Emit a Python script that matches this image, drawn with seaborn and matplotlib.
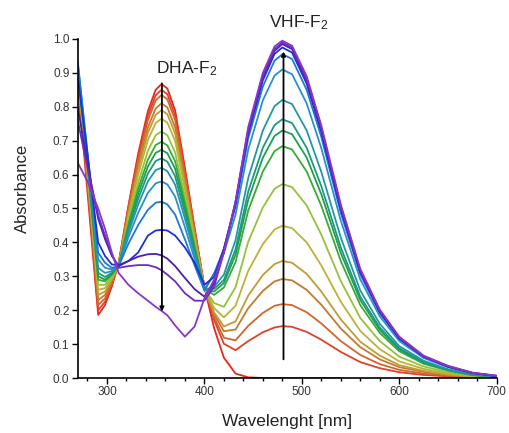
import matplotlib
matplotlib.use("Agg")
import matplotlib.pyplot as plt
import pandas as pd
import seaborn as sns
from matplotlib.ticker import MultipleLocator, FormatStrFormatter

nan = float("nan")

# Sampling wavelengths (nm) shared by every spectrum
wavelength = [270, 280, 291, 298, 305, 312, 322, 332, 342, 350, 356, 362, 370, 380,
              390, 400, 410, 420, 432, 445, 460, 472, 480, 490, 505, 520, 540, 560,
              580, 600, 625, 650, 675, 700]

# Absorbance spectra recorded during the DHA-F2 -> VHF-F2 conversion (first to last)
spec_01 = [0.87, 0.55, 0.186, 0.215, 0.27, 0.34, 0.508, 0.661, 0.787, 0.850, 0.867, 0.854, 0.789, 0.620, 0.442, 0.268,
           0.147, 0.06, 0.013, 0.002, 0, 0, 0, 0, 0, 0, 0, nan, nan, nan, nan, nan, nan, nan]
spec_02 = [0.88, 0.57, 0.20, 0.225, 0.275, 0.335, 0.502, 0.650, 0.773, 0.834, 0.850, 0.837, 0.774, 0.609, 0.436, 0.268,
           0.171, 0.101, 0.082, 0.109, 0.135, 0.149, 0.153, 0.151, 0.136, 0.113, 0.077, 0.047, 0.029, 0.017, 0.009, 0.005, 0.002, 0.001]
spec_03 = [0.88, 0.58, 0.215, 0.235, 0.28, 0.335, 0.498, 0.641, 0.760, 0.819, 0.835, 0.822, 0.761, 0.600, 0.432, 0.267,
           0.179, 0.119, 0.111, 0.154, 0.192, 0.213, 0.218, 0.215, 0.194, 0.161, 0.109, 0.068, 0.041, 0.024, 0.013, 0.007, 0.003, 0.001]
spec_04 = [0.89, 0.59, 0.23, 0.245, 0.285, 0.333, 0.489, 0.626, 0.739, 0.795, 0.810, 0.798, 0.739, 0.585, 0.424, 0.267,
           0.188, 0.138, 0.143, 0.206, 0.257, 0.285, 0.292, 0.288, 0.260, 0.216, 0.146, 0.091, 0.055, 0.032, 0.018, 0.009, 0.004, 0.001]
spec_05 = [0.89, 0.60, 0.245, 0.255, 0.29, 0.333, 0.483, 0.614, 0.723, 0.776, 0.790, 0.778, 0.721, 0.573, 0.418, 0.266,
           0.193, 0.152, 0.167, 0.243, 0.304, 0.336, 0.345, 0.340, 0.307, 0.255, 0.173, 0.107, 0.066, 0.038, 0.021, 0.010, 0.004, 0.001]
spec_06 = [0.90, 0.61, 0.26, 0.265, 0.295, 0.332, 0.475, 0.599, 0.702, 0.752, 0.765, 0.753, 0.699, 0.558, 0.410, 0.265,
           0.206, 0.179, 0.213, 0.316, 0.395, 0.438, 0.449, 0.442, 0.400, 0.332, 0.225, 0.139, 0.085, 0.049, 0.027, 0.013, 0.005, 0.002]
spec_07 = [0.90, 0.62, 0.275, 0.275, 0.30, 0.332, 0.463, 0.576, 0.670, 0.716, 0.727, 0.716, 0.665, 0.535, 0.398, 0.264,
           0.221, 0.210, 0.268, 0.402, 0.503, 0.558, 0.572, 0.563, 0.509, 0.423, 0.286, 0.177, 0.109, 0.063, 0.034, 0.017, 0.007, 0.002]
spec_08 = [0.91, 0.63, 0.29, 0.285, 0.305, 0.331, 0.453, 0.558, 0.644, 0.687, 0.697, 0.686, 0.639, 0.516, 0.388, 0.263,
           0.245, 0.267, 0.342, 0.494, 0.609, 0.669, 0.684, 0.674, 0.609, 0.508, 0.345, 0.215, 0.133, 0.079, 0.042, 0.022, 0.009, 0.003]
spec_09 = [0.91, 0.635, 0.30, 0.29, 0.307, 0.331, 0.445, 0.543, 0.624, 0.664, 0.673, 0.663, 0.617, 0.502, 0.381, 0.262,
           0.255, 0.280, 0.364, 0.526, 0.650, 0.714, 0.730, 0.719, 0.650, 0.542, 0.369, 0.230, 0.142, 0.084, 0.045, 0.023, 0.009, 0.004]
spec_10 = [0.92, 0.64, 0.31, 0.298, 0.31, 0.33, 0.437, 0.528, 0.603, 0.640, 0.648, 0.638, 0.595, 0.487, 0.373, 0.262,
           0.263, 0.289, 0.380, 0.550, 0.679, 0.746, 0.763, 0.752, 0.679, 0.566, 0.385, 0.240, 0.149, 0.088, 0.047, 0.024, 0.010, 0.004]
spec_11 = [0.92, 0.65, 0.325, 0.31, 0.315, 0.33, 0.428, 0.511, 0.580, 0.613, 0.620, 0.610, 0.570, 0.470, 0.364, 0.261,
           0.269, 0.305, 0.407, 0.590, 0.730, 0.802, 0.820, 0.808, 0.730, 0.608, 0.414, 0.258, 0.160, 0.094, 0.051, 0.026, 0.011, 0.004]
spec_12 = [0.935, 0.66, 0.35, 0.325, 0.32, 0.33, 0.415, 0.487, 0.546, 0.574, 0.580, 0.571, 0.535, 0.445, 0.351, 0.260,
           0.308, 0.368, 0.482, 0.674, 0.819, 0.892, 0.910, 0.896, 0.810, 0.678, 0.464, 0.291, 0.182, 0.109, 0.059, 0.032, 0.014, 0.005]
spec_13 = [0.93, 0.665, 0.37, 0.34, 0.325, 0.33, 0.396, 0.451, 0.496, 0.517, 0.520, 0.512, 0.482, 0.409, 0.332, 0.258,
           0.308, 0.380, 0.505, 0.707, 0.860, 0.936, 0.955, 0.941, 0.850, 0.711, 0.487, 0.306, 0.191, 0.115, 0.062, 0.033, 0.014, 0.006]
spec_14 = [0.89, 0.66, 0.40, 0.36, 0.335, 0.333, 0.345, 0.37, 0.42, 0.435, 0.437, 0.435, 0.42, 0.385, 0.34, 0.275,
           0.298, 0.381, 0.514, 0.722, 0.878, 0.956, 0.975, 0.960, 0.868, 0.726, 0.497, 0.312, 0.195, 0.117, 0.063, 0.034, 0.015, 0.006]
spec_15 = [0.80, 0.63, 0.47, 0.41, 0.36, 0.33, 0.345, 0.358, 0.365, 0.366, 0.362, 0.352, 0.33, 0.295, 0.262, 0.24,
           0.28, 0.38, 0.518, 0.729, 0.887, 0.965, 0.985, 0.970, 0.877, 0.734, 0.502, 0.315, 0.197, 0.118, 0.064, 0.034, 0.015, 0.006]
spec_16 = [0.76, 0.62, 0.48, 0.42, 0.365, 0.325, 0.33, 0.333, 0.333, 0.327, 0.318, 0.305, 0.285, 0.25, 0.228, 0.228,
           0.27, 0.37, 0.52, 0.733, 0.891, 0.970, 0.99, 0.975, 0.881, 0.738, 0.505, 0.317, 0.198, 0.119, 0.064, 0.035, 0.015, 0.006]
spec_17 = [0.635, 0.58, 0.50, 0.44, 0.37, 0.31, 0.275, 0.25, 0.228, 0.21, 0.198, 0.185, 0.155, 0.122, 0.152, 0.235,
           0.29, 0.37, 0.522, 0.74, 0.90, 0.978, 0.995, 0.98, 0.89, 0.745, 0.512, 0.322, 0.202, 0.122, 0.066, 0.036, 0.016, 0.007]

spectra = [spec_01, spec_02, spec_03, spec_04, spec_05, spec_06, spec_07, spec_08, spec_09,
           spec_10, spec_11, spec_12, spec_13, spec_14, spec_15, spec_16, spec_17]
scan_names = [f"scan {i + 1:02d}" for i in range(len(spectra))]
scan_colors = ["#e8261e", "#e0402c", "#d2652a", "#c27a2e", "#c49a34", "#bdb236", "#94c23a",
               "#3aaa35", "#1f9e50", "#1a9a7e", "#2596a8", "#2a8fd0", "#1f78d6", "#1e32d2",
               "#4a1fb0", "#6a2dc0", "#8a35c8"]

# DHA band decreases, VHF band grows: arrow start/end (nm, absorbance)
dha_arrow = (356.4, 0.869, 0.196)
vhf_arrow = (481.2, 0.055, 0.963)

rows = []
for name, values in zip(scan_names, spectra):
    for w, a in zip(wavelength, values):
        rows.append({"wavelength": w, "absorbance": a, "scan": name})
df = pd.DataFrame(rows).dropna()

sns.set_theme(style="ticks")
plt.rcParams["font.family"] = ["Liberation Sans", "DejaVu Sans"]
plt.rcParams["mathtext.default"] = "regular"

fig = plt.figure(figsize=(5.09, 4.33), dpi=100)
ax = fig.add_axes([0.1527, 0.127, 0.8231, 0.783])

sns.lineplot(data=df, x="wavelength", y="absorbance", hue="scan", hue_order=scan_names,
             palette=scan_colors, estimator=None, sort=False, legend=False,
             linewidth=1.3, ax=ax)

ax.set_xlim(270, 700)
ax.set_ylim(0, 1.0)
ax.xaxis.set_major_locator(MultipleLocator(100))
ax.xaxis.set_minor_locator(MultipleLocator(20))
ax.yaxis.set_major_locator(MultipleLocator(0.1))
ax.yaxis.set_major_formatter(FormatStrFormatter("%.1f"))

sns.despine(ax=ax)
for side in ("left", "bottom"):
    ax.spines[side].set_linewidth(1.2)
    ax.spines[side].set_color("black")
ax.tick_params(axis="both", which="major", direction="out", length=4, width=1,
               color="black", labelsize=8.5, labelcolor="#333333", pad=2)
ax.tick_params(axis="x", which="minor", direction="out", length=2.5, width=1, color="black")

ax.set_xlabel("Wavelenght [nm]", fontsize=12.5, color="#222222")
ax.set_ylabel("Absorbance", fontsize=12, color="#222222")
ax.xaxis.set_label_coords(0.5, -0.129)
ax.xaxis.label.set_va("center")
ax.yaxis.set_label_coords(-0.133, 0.56)
ax.yaxis.label.set_va("center")

x0, y_top, y_bot = dha_arrow
ax.annotate("", xy=(x0, y_bot), xytext=(x0, y_top),
            arrowprops=dict(arrowstyle="-|>", color="black", lw=1.3, mutation_scale=6,
                            shrinkA=0, shrinkB=0))
x1, y_low, y_high = vhf_arrow
ax.annotate("", xy=(x1, y_high), xytext=(x1, y_low),
            arrowprops=dict(arrowstyle="-|>", color="black", lw=1.3, mutation_scale=6,
                            shrinkA=0, shrinkB=0))

ax.text(381.5, 0.912, "DHA-F$_2$", ha="center", va="center", fontsize=12.5, color="#222222")
ax.text(496.5, 1.048, "VHF-F$_2$", ha="center", va="center", fontsize=12.5, color="#222222",
        clip_on=False)

fig.savefig("out.png", dpi=100)
